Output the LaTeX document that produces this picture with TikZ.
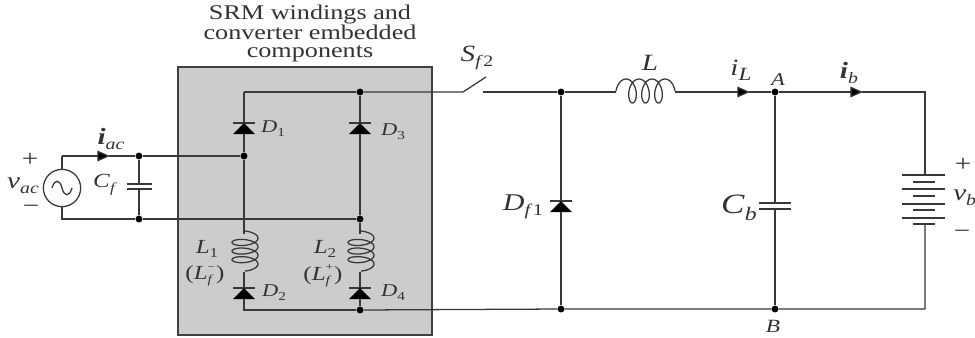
\documentclass[tikz,border=0pt]{standalone}
\usepackage{fontspec}
\usepackage{graphicx}
\setmainfont[FakeStretch=1.25]{Liberation Serif}
\usetikzlibrary{arrows.meta}
\newcommand{\lowsub}[1]{\raisebox{-0.5ex}{\scalebox{0.68}{\textit{#1}}}}
\newcommand{\supsub}[2]{\rlap{\raisebox{1ex}{\fontsize{8}{8}\selectfont #1}}\raisebox{-0.5ex}{\fontsize{9}{9}\selectfont\textit{#2}}\hspace{2pt}}
\tikzset{
  x=0.75pt,y=-0.75pt,
  wire/.style={draw=black!78,line width=0.95pt,line join=miter},
  flow/.style={wire,-{Triangle[length=9.5pt,width=8pt,fill=black]}},
  dot/.style={circle,fill=black,inner sep=0pt,minimum size=5.2pt},
  lbl/.style={inner sep=0pt,text=black!80,font=\fontsize{17.5}{17.5}\selectfont},
  small/.style={inner sep=0pt,text=black!80,font=\fontsize{13.5}{13.5}\selectfont},
  ttl/.style={inner sep=0pt,text=black!80,align=center,font=\fontsize{15.7}{13.2}\selectfont}
}
\newcommand{\diode}[2]{% x, y of cathode bar
  \draw[wire] (#1-11,#2) -- (#1+11,#2);
  \fill[black] (#1,#2) -- (#1+11,#2+11) -- (#1-11,#2+11) -- cycle;
}
\newcommand{\vcoil}[2]{% x of lead, y of top
  \draw[wire,samples=110,smooth,domain=-90:1170,variable=\t]
    plot ({#1+1+13*cos(\t)},{#2+5+8.6*\t/360+5*sin(\t)+2.15});
}
\begin{document}
\begin{tikzpicture}
\useasboundingbox (0,0) rectangle (975,337);
\clip (0,0) rectangle (975,337);
\fill[white] (0,0) rectangle (975,337);
\node[draw=black!75,fill=black!20,line width=1.1pt,minimum width=190.5pt,minimum height=201pt,inner sep=0pt] (box) at (305,201) {};
\node[ttl] (title) at (310,33) {SRM windings and\\converter embedded\\components};

% named points
\coordinate (src) at (62,188);
\coordinate (tl) at (62,156);
\coordinate (bl) at (62,219);
\node[dot] (j1) at (139,156) {};
\node[dot] (j2) at (139,219) {};
\node[dot] (j3) at (244,156) {};
\node[dot] (j4) at (360,219) {};
\node[dot] (j5) at (360,92) {};
\node[dot] (j6) at (360,310) {};
\node[dot] (j7) at (561,92) {};
\node[dot] (j8) at (561,309) {};
\node[dot] (j9) at (775,92) {};
\node[dot] (j10) at (775,309) {};
\coordinate (c1) at (244,92);
\coordinate (c2) at (244,310);
\coordinate (sw1) at (463,92);
\coordinate (sw2) at (486,77);
\coordinate (sw3) at (483,92);
\coordinate (tr) at (925,92);
\coordinate (br) at (925,309);
\node[draw=black!78,line width=0.95pt,circle,minimum size=28pt,inner sep=0pt] (ac) at (src) {};

% source loop
\draw[wire] (ac.north) -- (tl);
\draw[wire] (ac.south) -- (bl) -- (j2);
\draw[flow] (tl) -- (110,156);
\draw[wire] (109,156) -- (j1) -- (j3);
\draw[wire] (j2) -- (j4);
\draw[wire] (52,188) .. controls (55,178) and (60,180) .. (62,188) .. controls (64,196) and (69,198) .. (72,188);
% Cf
\draw[wire] (j1) -- (139,184);
\draw[wire] (127,184) -- (152,184);
\draw[wire] (127,189) -- (152,189);
\draw[wire] (139,189) -- (j2);

% bridge
\draw[wire] (c1) -- (j5);
\draw[wire] (j5) -- (sw1) -- (sw2);
\draw[wire] (c1) -- (244,123);
\draw[wire] (244,134) -- (j3);
\draw[wire] (j3) -- (244,234);
\draw[wire,line width=1.3pt] (j5) -- (360,123);
\draw[wire,line width=1.3pt] (360,134) -- (j4);
\draw[wire] (j4) -- (360,234);
\diode{244}{123}
\diode{360}{123}
\vcoil{244}{231}
\vcoil{360}{231}
\draw[wire] (244,272) -- (244,288);
\draw[wire] (360,272) -- (360,288);
\diode{244}{288}
\diode{360}{288}
\draw[wire] (244,299) -- (c2) -- (j6);
\draw[wire] (360,299) -- (j6);

% right part
\draw[wire] (sw3) -- (j7) -- (616,92);
\draw[wire,samples=110,smooth,domain=-90:1170,variable=\t]
  plot ({626+13*\t/360+6.75*sin(\t)},{91-12*cos(\t)});
\draw[flow] (675,92) -- (750,92);
\draw[wire] (749,92) -- (j9);
\draw[flow] (j9) -- (863,92);
\draw[wire] (862,92) -- (tr) -- (925,175);
\draw[wire] (925,224) -- (br) -- (j10) -- (j8) -- (j6);
% Df1
\draw[wire] (j7) -- (561,201);
\diode{561}{201}
\draw[wire] (561,212) -- (j8);
% Cb
\draw[wire] (j9) -- (775,203);
\draw[wire] (759,203) -- (791,203);
\draw[wire] (759,209) -- (791,209);
\draw[wire] (775,209) -- (j10);
% battery
\draw[wire] (902,175) -- (945,175);
\draw[wire] (913,182) -- (935,182);
\draw[wire] (902,189) -- (945,189);
\draw[wire] (913,196) -- (935,196);
\draw[wire] (902,204) -- (945,204);
\draw[wire] (913,210) -- (935,210);
\draw[wire] (902,218) -- (945,218);
\draw[wire] (913,224) -- (935,224);

% labels
\node[lbl] (lplus) at (30,160) {+};
\node[lbl] (lvac) at (23,186) {\textit{v}\lowsub{ac}};
\node[lbl] (lminus) at (31,209) {\textminus};
\node[lbl] (liac) at (111,139) {\textbf{\textit{i}}\lowsub{ac}};
\node[small,font=\fontsize{15}{15}\selectfont] (lcf) at (105,185) {\textit{C}\lowsub{f}};
\node[small] (ld1) at (273,129) {\textit{D}\lowsub{\textup{1}}};
\node[small] (ld3) at (393,132) {\textit{D}\lowsub{\textup{3}}};
\node[small] (ld2) at (274,293) {\textit{D}\lowsub{\textup{2}}};
\node[small] (ld4) at (393,293) {\textit{D}\lowsub{\textup{4}}};
\node[small,font=\fontsize{15}{15}\selectfont] (ll1) at (207,249) {\textit{L}\lowsub{\textup{1}}};
\node[small,font=\fontsize{15}{15}\selectfont] (ll1f) at (205,276) {(\textit{L}\supsub{\textminus}{f})};
\node[small,font=\fontsize{15}{15}\selectfont] (ll2) at (325,249) {\textit{L}\lowsub{\textup{2}}};
\node[small,font=\fontsize{15}{15}\selectfont] (ll2f) at (323,276) {(\textit{L}\supsub{+}{f})};
\node[lbl] (lsf) at (477,58) {\textit{S}\lowsub{f\,\textup{2}}};
\node[lbl] (ll) at (650,63) {\textit{L}};
\node[lbl] (lil) at (741,70) {\textit{i}\raisebox{-0.45ex}{\fontsize{14}{14}\selectfont\textit{L}}};
\node[small] (la) at (778,80) {\textit{A}};
\node[lbl] (lib) at (849,73) {\textbf{\textit{i}}\lowsub{b}};
\node[lbl,font=\fontsize{18}{18}\selectfont] (ldf) at (523,207) {\textit{D}\lowsub{f\,\textup{1}}};
\node[lbl,font=\fontsize{21}{21}\selectfont] (lcb) at (739,208) {\textit{C}\lowsub{b}};
\node[small,font=\fontsize{14}{14}\selectfont] (lb) at (773,326) {\textit{B}};
\node[lbl] (lp2) at (963,165) {+};
\node[lbl,anchor=west] (lvb) at (953,198) {\textit{v}\lowsub{b}};
\node[lbl] (lm2) at (962,234) {\textminus};
\end{tikzpicture}
\end{document}
